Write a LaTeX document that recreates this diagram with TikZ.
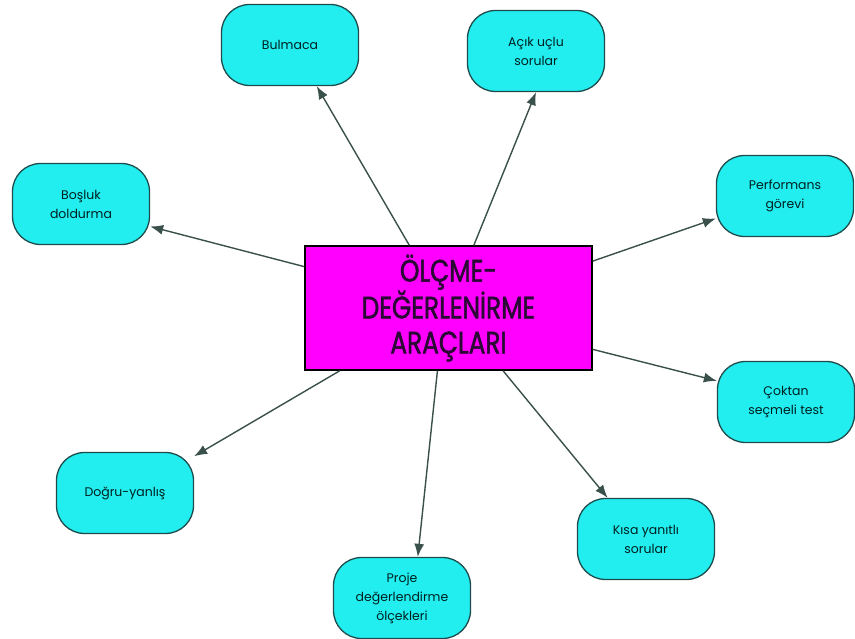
\documentclass[tikz,border=0pt]{standalone}
\usepackage{fontspec}
\setmainfont{Poppins}
\newfontfamily\titlefont[FakeStretch=0.8,FakeBold=1.5]{Poppins}
\usepackage{tikz}
\usetikzlibrary{arrows.meta}
\definecolor{boxfill}{RGB}{34,238,240}
\definecolor{boxline}{RGB}{30,75,75}
\definecolor{edgecol}{RGB}{58,80,75}
\definecolor{titletext}{RGB}{42,10,52}
\definecolor{centrefill}{RGB}{255,0,255}
\tikzstyle{tool}=[rectangle,rounded corners=28pt,fill=boxfill,draw=boxline,line width=1.3pt,minimum width=137pt,minimum height=81pt,align=center,text=black!75!teal,font=\fontsize{12.5}{19}\selectfont]
\tikzstyle{centre}=[rectangle,fill=centrefill,draw=black,line width=1.5pt,minimum width=287pt,minimum height=124pt,align=center,text=titletext,font=\titlefont\fontsize{31}{35}\selectfont]
\tikzstyle{edge} = [draw,line width=1.4pt,edgecol,-{Latex[length=13pt,width=10pt]}]

\begin{document}
\begin{tikzpicture}[x=1pt,y=-1pt]
    \useasboundingbox (0,0) rectangle (855,639);
    % First the centre box
    \node[centre] (arac) at (448.5,308) {ÖLÇME-\\DEĞERLENİRME\\ARAÇLARI};

    % Then the tools around it
    \foreach \pos/\name/\text in {{(290,45)/bulmaca/Bulmaca},
        {(536,51)/acik/Açık uçlu\\sorular},
        {(81,204)/bosluk/Boşluk\\doldurma},
        {(785,196)/performans/Performans\\görevi},
        {(786,402)/coktan/Çoktan\\seçmeli test},
        {(646,539)/kisa/Kısa yanıtlı\\sorular},
        {(402,598)/proje/Proje\\değerlendirme\\ölçekleri},
        {(125,493)/dogru/Doğru-yanlış}}
        \node[tool] (\name) at \pos {\text};

    % Connect centre with tools
    \foreach \from/\dest in {122/bulmaca.-57, 68/acik.south, 164/bosluk.-18,
        18/performans.198, -16/coktan.163, -49/kisa.133, 260/proje.69, 210/dogru.28}
        \path[edge] (arac.\from) -- (\dest);
\end{tikzpicture}
\end{document}
